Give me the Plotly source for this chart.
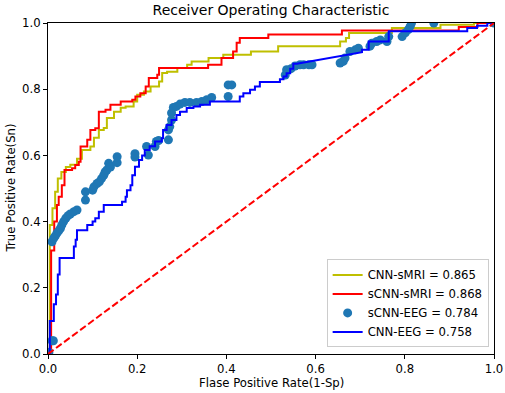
import plotly.graph_objects as go

# CNN-sMRI (corner points, step 'hv')
cnn_smri_fpr = [0, 0.004, 0.010, 0.016, 0.022, 0.030, 0.040, 0.050, 0.065, 0.076, 0.095, 0.103, 0.114,
                0.125, 0.132, 0.148, 0.163, 0.174, 0.192, 0.200, 0.215, 0.230, 0.249, 0.256, 0.267, 0.290,
                0.312, 0.322, 0.360, 0.393, 0.455, 0.516, 0.655, 0.668, 0.675, 0.771, 0.880, 0.955, 1.0]
cnn_smri_tpr = [0, 0.39, 0.44, 0.49, 0.53, 0.55, 0.565, 0.572, 0.59, 0.616, 0.627, 0.653, 0.677,
                0.683, 0.713, 0.732, 0.744, 0.748, 0.763, 0.783, 0.793, 0.808, 0.823, 0.849, 0.853, 0.864,
                0.874, 0.884, 0.894, 0.904, 0.914, 0.93, 0.944, 0.955, 0.97, 0.985, 0.995, 1.0, 1.0]

# sCNN-sMRI (corner points, step 'hv')
scnn_smri_fpr = [0, 0.007, 0.014, 0.020, 0.024, 0.031, 0.037, 0.054, 0.061, 0.069, 0.073, 0.088, 0.095,
                 0.106, 0.114, 0.129, 0.140, 0.163, 0.189, 0.196, 0.207, 0.219, 0.226, 0.245, 0.249, 0.359,
                 0.389, 0.415, 0.423, 0.430, 0.494, 0.659, 0.921, 0.963, 1.0]
scnn_smri_tpr = [0, 0.313, 0.40, 0.45, 0.475, 0.51, 0.556, 0.561, 0.571, 0.581, 0.627, 0.647, 0.677,
                 0.682, 0.732, 0.738, 0.753, 0.763, 0.768, 0.778, 0.788, 0.808, 0.834, 0.844, 0.864, 0.874,
                 0.894, 0.914, 0.94, 0.955, 0.965, 0.977, 0.988, 1.0, 1.0]

# sCNN-EEG (scatter points)
scnn_eeg_fpr = [0.002, 0.009, 0.012, 0.009, 0.013, 0.016, 0.020, 0.024, 0.028, 0.031, 0.035, 0.040, 0.045,
                0.050, 0.058, 0.065, 0.084, 0.084, 0.100, 0.103, 0.110, 0.115, 0.120, 0.125, 0.128, 0.132,
                0.136, 0.140, 0.155, 0.155, 0.195, 0.195, 0.221, 0.225, 0.240, 0.243, 0.248, 0.270, 0.270,
                0.273, 0.277, 0.277, 0.281, 0.288, 0.296, 0.307, 0.318, 0.333, 0.345, 0.356, 0.367, 0.404,
                0.404, 0.412, 0.532, 0.535, 0.545, 0.554, 0.565, 0.573, 0.585, 0.592, 0.655, 0.662, 0.666,
                0.677, 0.689, 0.696, 0.722, 0.726, 0.737, 0.745, 0.760, 0.764, 0.794, 0.801, 0.808, 0.812,
                0.815, 0.865, 1.0]
scnn_eeg_tpr = [0.005, 0.04, 0.04, 0.339, 0.35, 0.356, 0.365, 0.372, 0.38, 0.39, 0.40, 0.41, 0.418,
                0.423, 0.43, 0.435, 0.465, 0.49, 0.495, 0.505, 0.515, 0.52, 0.53, 0.54, 0.55, 0.556,
                0.576, 0.565, 0.578, 0.596, 0.595, 0.605, 0.627, 0.601, 0.627, 0.642, 0.645, 0.647, 0.677,
                0.687, 0.707, 0.728, 0.745, 0.748, 0.755, 0.76, 0.76, 0.76, 0.763, 0.768, 0.775, 0.778,
                0.813, 0.813, 0.843, 0.859, 0.862, 0.87, 0.874, 0.874, 0.874, 0.874, 0.879, 0.884, 0.894,
                0.914, 0.919, 0.924, 0.93, 0.939, 0.944, 0.949, 0.944, 0.959, 0.959, 0.97, 0.98, 0.99,
                1.0, 1.0, 1.0]

# CNN-EEG (vertices, linear)
cnn_eeg_fpr = [0, 0.004, 0.004, 0.013, 0.013, 0.018, 0.018, 0.022, 0.022, 0.026, 0.026, 0.058, 0.058,
               0.062, 0.062, 0.065, 0.065, 0.088, 0.088, 0.100, 0.100, 0.106, 0.106, 0.114, 0.114, 0.125,
               0.125, 0.166, 0.166, 0.174, 0.174, 0.177, 0.177, 0.185, 0.185, 0.189, 0.189, 0.195, 0.195,
               0.204, 0.204, 0.211, 0.211, 0.217, 0.217, 0.228, 0.228, 0.240, 0.240, 0.255, 0.255, 0.258,
               0.258, 0.266, 0.266, 0.277, 0.277, 0.288, 0.288, 0.296, 0.296, 0.311, 0.311, 0.326, 0.326,
               0.341, 0.341, 0.363, 0.363, 0.430, 0.430, 0.438, 0.438, 0.453, 0.453, 0.464, 0.464, 0.475,
               0.475, 0.520, 0.520, 0.528, 0.528, 0.535, 0.535, 0.543, 0.543, 0.550, 0.550, 0.558, 0.704,
               0.704, 0.719, 0.719, 0.764, 0.764, 0.940, 0.940, 0.962, 0.962, 0.985, 0.985, 1.0]
cnn_eeg_tpr = [0, 0, 0.10, 0.10, 0.15, 0.15, 0.18, 0.18, 0.24, 0.24, 0.29, 0.29, 0.325,
               0.325, 0.345, 0.345, 0.374, 0.374, 0.39, 0.39, 0.40, 0.40, 0.41, 0.41, 0.43, 0.43,
               0.45, 0.45, 0.46, 0.46, 0.475, 0.475, 0.495, 0.495, 0.51, 0.51, 0.54, 0.54, 0.566,
               0.566, 0.586, 0.586, 0.60, 0.60, 0.616, 0.616, 0.628, 0.628, 0.642, 0.642, 0.652, 0.652,
               0.677, 0.677, 0.692, 0.692, 0.707, 0.707, 0.722, 0.722, 0.732, 0.732, 0.743, 0.743, 0.748,
               0.748, 0.753, 0.753, 0.763, 0.763, 0.778, 0.778, 0.788, 0.788, 0.798, 0.798, 0.808, 0.808,
               0.822, 0.822, 0.83, 0.83, 0.838, 0.838, 0.848, 0.848, 0.862, 0.862, 0.877, 0.877, 0.912,
               0.919, 0.919, 0.944, 0.944, 0.975, 0.975, 0.985, 0.985, 0.992, 0.992, 1.0, 1.0]

labels = ["CNN-sMRI = 0.865", "sCNN-sMRI = 0.868", "sCNN-EEG = 0.784", "CNN-EEG = 0.758"]
tick_vals = [0.0, 0.2, 0.4, 0.6, 0.8, 1.0]
tick_text = ["0.0", "0.2", "0.4", "0.6", "0.8", "1.0"]

FONT = "DejaVu Sans"
fig = go.Figure()
fig.add_trace(go.Scatter(x=cnn_smri_fpr, y=cnn_smri_tpr, mode="lines", line_shape="hv",
                         line=dict(color="#bfbf00", width=2), name=labels[0]))
fig.add_trace(go.Scatter(x=scnn_smri_fpr, y=scnn_smri_tpr, mode="lines", line_shape="hv",
                         line=dict(color="#ff0000", width=2), name=labels[1]))
fig.add_trace(go.Scatter(x=scnn_eeg_fpr, y=scnn_eeg_tpr, mode="markers",
                         marker=dict(color="#1f77b4", size=9, line=dict(width=0)), name=labels[2]))
fig.add_trace(go.Scatter(x=cnn_eeg_fpr, y=cnn_eeg_tpr, mode="lines",
                         line=dict(color="#0000ff", width=2), name=labels[3]))
fig.add_trace(go.Scatter(x=[0, 1], y=[0, 1], mode="lines", showlegend=False,
                         line=dict(color="#ff0000", width=2, dash="7px,3px")))

axis_common = dict(range=[0, 1], showgrid=False, zeroline=False, showline=True, mirror=True,
                   linecolor="black", linewidth=1, ticks="outside", ticklen=4, tickcolor="black",
                   automargin=False,
                   tickvals=tick_vals, ticktext=tick_text, tickfont=dict(family=FONT, size=11.7, color="black"))

fig.update_layout(
    width=505, height=393,
    margin=dict(l=48, r=11, t=23, b=39),
    paper_bgcolor="white", plot_bgcolor="white",
    font=dict(family=FONT, size=11.7, color="black"),
    title=dict(text="Receiver Operating Characteristic", x=0.5, xref="paper", xanchor="center",
               y=1 - 10 / 393, yref="container", yanchor="middle",
               font=dict(family=FONT, size=14, color="black")),
    xaxis=axis_common,
    yaxis=axis_common,
    legend=dict(x=0.988, y=0.02, xanchor="right", yanchor="bottom", bgcolor="rgba(255,255,255,0.8)",
                bordercolor="#cccccc", borderwidth=1, font=dict(family=FONT, size=11.7, color="black"),
                tracegroupgap=0),
    annotations=[
        dict(text="Flase Positive Rate(1-Sp)", x=0.5, y=-(383 - 354) / 331, xref="paper", yref="paper",
             showarrow=False, xanchor="center", yanchor="middle",
             font=dict(family=FONT, size=11.7, color="black")),
        dict(text="True Positive Rate(Sn)", x=-(48 - 10) / 446, y=0.5, xref="paper", yref="paper",
             showarrow=False, xanchor="center", yanchor="middle", textangle=-90,
             font=dict(family=FONT, size=11.7, color="black")),
    ],
)

fig.write_html("out.html", config={"displayModeBar": False},
               post_script="document.body.style.margin='0';document.body.style.padding='0';")
